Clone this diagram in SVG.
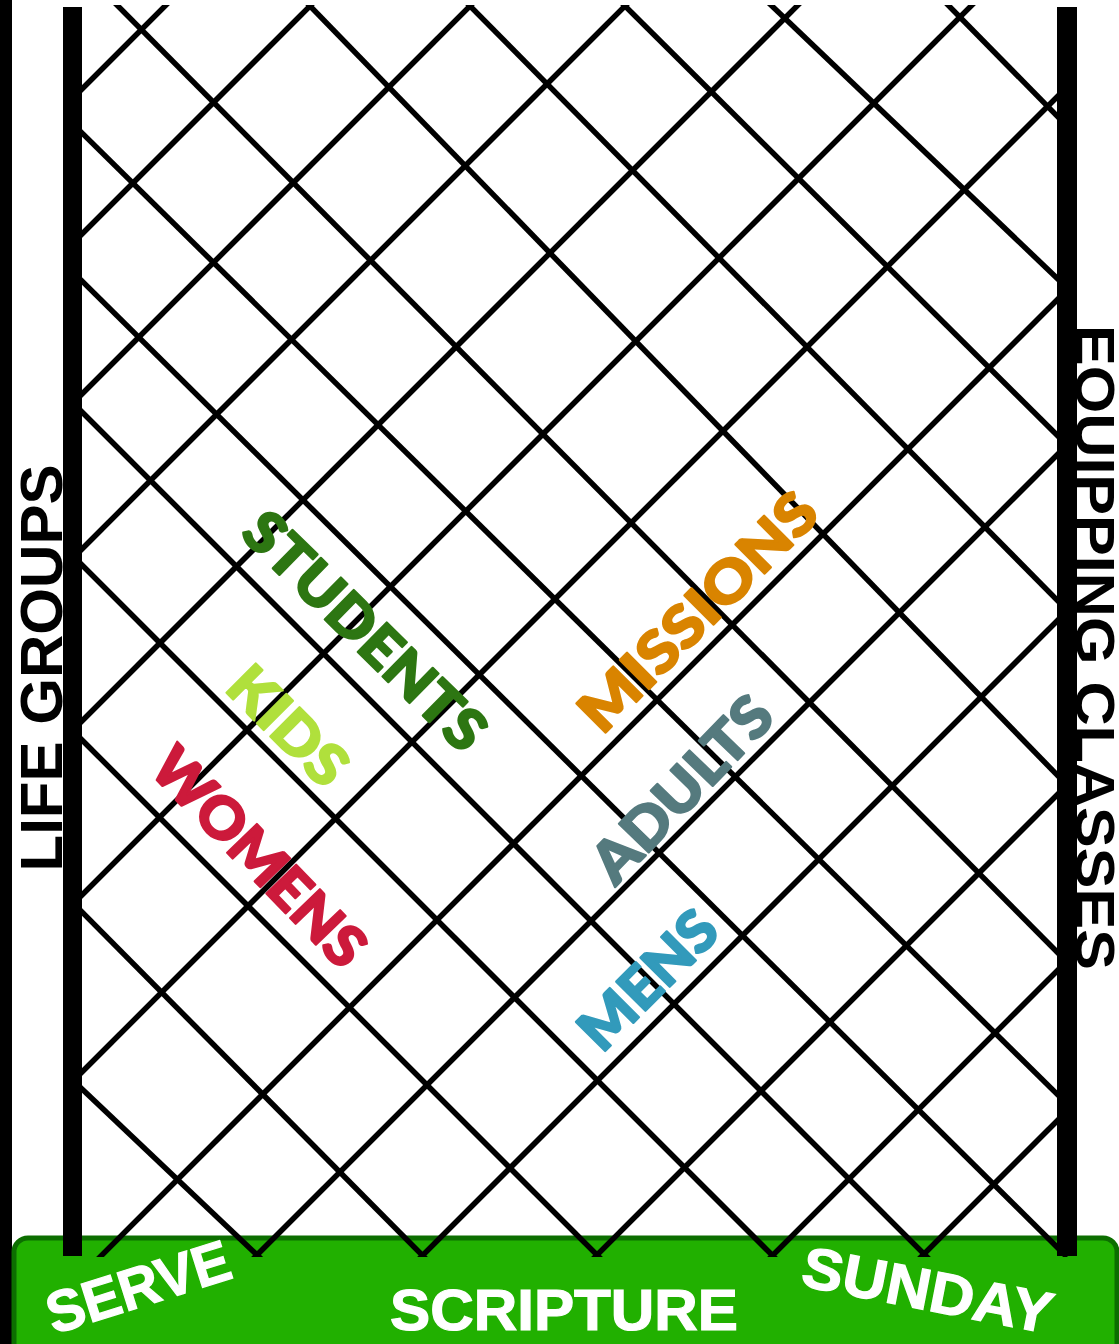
<svg xmlns="http://www.w3.org/2000/svg" width="1119" height="1344" viewBox="0 0 1119 1344">
<defs>
<style>
.lat line{stroke:#000;stroke-width:5.5;fill:none;stroke-linecap:butt}
.post{fill:#000}
.side{font-family:'Liberation Sans',Arial,sans-serif;font-weight:bold;font-size:59px;fill:#000;text-anchor:middle}
.lbl{font-family:Lato,'Liberation Sans',sans-serif;font-weight:900;font-size:57px;text-anchor:middle;stroke-width:2.2;stroke-linejoin:round}
.base{font-family:'Liberation Sans',Arial,sans-serif;font-weight:bold;font-size:58px;fill:#fff;stroke:#fff;stroke-width:1.2;text-anchor:middle}
</style>
<clipPath id="clip"><rect x="0" y="5" width="1119" height="1252"/></clipPath>
</defs>
<rect width="1119" height="1344" fill="#fff"/>
<rect id="left-strip" x="0" y="0" width="12" height="1344" fill="#000"/>
<g id="base">
<rect x="14" y="1238" width="1103" height="130" rx="14" fill="#21b000" stroke="#0c6e00" stroke-width="5"/>
</g>
<g id="connectors" class="lat" clip-path="url(#clip)">
<line x1="171" y1="0" x2="72" y2="99"/>
<line x1="316" y1="0" x2="72" y2="244"/>
<line x1="476" y1="0" x2="72" y2="404"/>
<line x1="631" y1="0" x2="72" y2="559"/>
<line x1="803" y1="0" x2="72" y2="731"/>
<line x1="977" y1="0" x2="72" y2="905"/>
<line x1="1067" y1="87" x2="72" y2="1082"/>
<line x1="1067" y1="290" x2="97" y2="1260"/>
<line x1="1067" y1="445" x2="252" y2="1260"/>
<line x1="1067" y1="611" x2="418" y2="1260"/>
<line x1="1067" y1="785" x2="592" y2="1260"/>
<line x1="1067" y1="961" x2="768" y2="1260"/>
<line x1="1067" y1="1111" x2="918" y2="1260"/>
<line x1="112" y1="0" x2="1067" y2="962"/>
<line x1="304.2" y1="0" x2="1067" y2="785.2"/>
<line x1="464.1" y1="0" x2="1067" y2="610.1"/>
<line x1="619" y1="0" x2="1067" y2="445"/>
<line x1="765.7" y1="0" x2="1067" y2="287.7"/>
<line x1="943.1" y1="0" x2="1067" y2="126.1"/>
<line x1="72" y1="123.1" x2="1067" y2="1103.9"/>
<line x1="72" y1="271.1" x2="1067" y2="1257"/>
<line x1="72" y1="402" x2="930" y2="1260"/>
<line x1="72" y1="555" x2="777" y2="1260"/>
<line x1="72" y1="730" x2="602" y2="1260"/>
<line x1="72" y1="901.9" x2="427" y2="1260"/>
<line x1="72" y1="1079.5" x2="262.3" y2="1260"/>
</g>
<g id="left-post"><rect class="post" x="63" y="7" width="19" height="1249"/></g>
<g id="right-post"><rect class="post" x="1057" y="7" width="20" height="1249"/></g>
<g id="life-groups"><text class="side" transform="translate(62,668) rotate(-90)" textLength="407" lengthAdjust="spacingAndGlyphs">LIFE GROUPS</text></g>
<g id="equipping-classes"><text class="side" transform="translate(1076,647.5) rotate(90)" textLength="645" lengthAdjust="spacingAndGlyphs" style="font-size:56px">EQUIPPING CLASSES</text></g>
<g id="students"><text class="lbl" fill="#2d7612" stroke="#2d7612" transform="translate(365,631) rotate(44.5)" y="20" textLength="314" lengthAdjust="spacingAndGlyphs">STUDENTS</text></g>
<g id="kids"><text class="lbl" fill="#b0e03c" stroke="#b0e03c" transform="translate(288,726) rotate(45)" y="20" textLength="143" lengthAdjust="spacingAndGlyphs">KIDS</text></g>
<g id="womens"><text class="lbl" fill="#cc1a3b" stroke="#cc1a3b" transform="translate(259,857) rotate(46)" y="20" textLength="280" lengthAdjust="spacingAndGlyphs">WOMENS</text></g>
<g id="missions"><text class="lbl" fill="#d98400" stroke="#d98400" transform="translate(698,612) rotate(-45)" y="20" textLength="311" lengthAdjust="spacingAndGlyphs">MISSIONS</text></g>
<g id="adults"><text class="lbl" fill="#557a7e" stroke="#557a7e" transform="translate(682,789) rotate(-46)" y="20" textLength="233" lengthAdjust="spacingAndGlyphs">ADULTS</text></g>
<g id="mens"><text class="lbl" fill="#329abb" stroke="#329abb" transform="translate(648,980) rotate(-45)" y="20" textLength="170" lengthAdjust="spacingAndGlyphs">MENS</text></g>
<g id="serve"><text class="base" transform="translate(138,1286) rotate(-17.5)" y="21" textLength="190" lengthAdjust="spacingAndGlyphs">SERVE</text></g>
<g id="scripture"><text class="base" x="564" y="1330" textLength="348" lengthAdjust="spacingAndGlyphs">SCRIPTURE</text></g>
<g id="sunday"><text class="base" transform="translate(928,1289) rotate(11)" y="21" textLength="254" lengthAdjust="spacingAndGlyphs">SUNDAY</text></g>
</svg>
